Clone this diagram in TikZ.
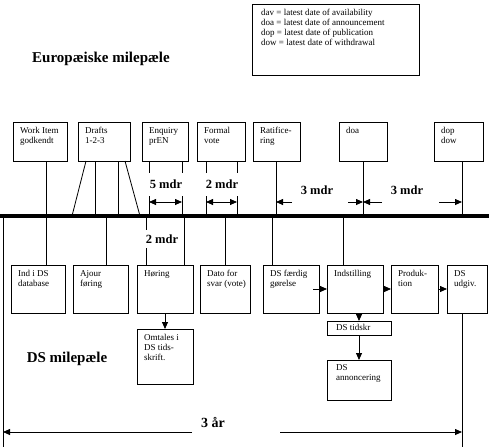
\documentclass[tikz,border=0pt]{standalone}
\usepackage{fontspec}
\setmainfont{Liberation Serif}
\usetikzlibrary{arrows.meta,calc}
\newcommand\boxfont{\fontsize{9}{10}\selectfont}
\newcommand\titlefont{\fontsize{15}{18}\selectfont\bfseries}
\newcommand\dimfont{\fontsize{12.5}{14}\selectfont\bfseries}
\begin{document}
\begin{tikzpicture}[x=1pt,y=-1pt,
  box/.style={draw,line width=0.8pt,inner sep=0pt,outer sep=0pt,anchor=north west},
  lbl/.style={anchor=north west,align=left,font=\boxfont,inner xsep=7pt,inner ysep=5pt},
  ln/.style={line width=0.8pt},
  arr/.style={line width=0.8pt,-{Triangle[length=7pt,width=6pt]}},
  darr/.style={line width=0.8pt,{Triangle[length=7pt,width=6pt]}-{Triangle[length=7pt,width=6pt]}},
  dim/.style={font=\dimfont,fill=white,inner sep=0pt},
  title/.style={font=\titlefont,inner sep=0pt}]
\useasboundingbox (0,0) rectangle (489,447);
% legend
\node[box,minimum width=167pt,minimum height=71pt,
  label={[lbl,inner xsep=9pt,inner ysep=5pt]north west:{dav = latest date of availability\\doa = latest date of announcement\\dop = latest date of publication\\dow = latest date of withdrawal}}] (leg) at (252,4) {};
% titles
\node[title] (eu) at (101,59) {Europæiske milepæle};
\node[title] (dsm) at (67,359) {DS milepæle};
% timeline
\coordinate (tlL) at (0,216);
\coordinate (tlR) at (489,216);
\draw[line width=4pt] (tlL) -- (tlR);
% top boxes
\node[box,minimum width=54pt,minimum height=39pt,label={[lbl]north west:{Work Item\\godkendt}}] (wi) at (13,122) {};
\node[box,minimum width=52pt,minimum height=39pt,label={[lbl]north west:{Drafts\\1-2-3}}] (dr) at (78,122) {};
\node[box,minimum width=46pt,minimum height=39pt,label={[lbl]north west:{Enquiry\\prEN}}] (enq) at (142,122) {};
\node[box,minimum width=48pt,minimum height=39pt,label={[lbl]north west:{Formal\\vote}}] (fv) at (197,122) {};
\node[box,minimum width=47pt,minimum height=39pt,label={[lbl]north west:{Ratifice-\\ring}}] (rat) at (253,122) {};
\node[box,minimum width=48pt,minimum height=39pt,label={[lbl]north west:{doa}}] (doa) at (339,122) {};
\node[box,minimum width=49pt,minimum height=39pt,label={[lbl]north west:{dop\\dow}}] (dop) at (434,122) {};
% bottom boxes
\node[box,minimum width=54pt,minimum height=48pt,label={[lbl]north west:{Ind i DS\\database}}] (ind) at (11,265) {};
\node[box,minimum width=55pt,minimum height=48pt,label={[lbl]north west:{Ajour\\føring}}] (aj) at (73,265) {};
\node[box,minimum width=56pt,minimum height=48pt,label={[lbl]north west:{Høring}}] (hor) at (137,265) {};
\node[box,minimum width=50pt,minimum height=48pt,label={[lbl]north west:{Dato for\\svar (vote)}}] (dato) at (200,265) {};
\node[box,minimum width=56pt,minimum height=48pt,label={[lbl]north west:{DS færdig\\gørelse}}] (dsf) at (263,265) {};
\node[box,minimum width=56pt,minimum height=48pt,label={[lbl]north west:{Indstilling}}] (inds) at (327,265) {};
\node[box,minimum width=47pt,minimum height=48pt,label={[lbl]north west:{Produk-\\tion}}] (prod) at (391,265) {};
\node[box,minimum width=40pt,minimum height=48pt,label={[lbl]north west:{DS\\udgiv.}}] (udg) at (447,265) {};
\node[box,minimum width=56pt,minimum height=55pt,label={[lbl]north west:{Omtales i\\DS tids-\\skrift.}}] (omt) at (137,329) {};
\node[box,minimum width=64pt,minimum height=14pt,label={[lbl,inner xsep=9pt,inner ysep=3pt]north west:{DS tidskr}}] (tid) at (327,321) {};
\node[box,minimum width=64pt,minimum height=40pt,label={[lbl,inner xsep=9pt,inner ysep=4pt]north west:{DS\\annoncering}}] (ann) at (327,360) {};
% coordinates on timeline
\coordinate (c46) at (46,216);
\coordinate (d1) at (72,216);
\coordinate (d2) at (95,216);
\coordinate (d3) at (118,216);
\coordinate (d4) at (140,216);
\coordinate (e1) at (149,216);
\coordinate (e2) at (182,216);
\coordinate (f1) at (206,216);
\coordinate (f2) at (237,216);
\coordinate (r1) at (276,216);
\coordinate (a1) at (363,216);
\coordinate (p1) at (462,216);
\coordinate (b1) at (106,216);
\coordinate (h1) at (146,216);
\coordinate (h2) at (184,216);
\coordinate (v1) at (225,216);
\coordinate (s1) at (272,216);
\coordinate (i1) at (343,216);
% top connectors
\draw[ln] (wi.south -| c46) -- (ind.north -| c46);
\draw[ln] ($(dr.south west)+(8,0)$) -- (d1);
\draw[ln] (dr.south -| d2) -- (d2);
\draw[ln] (dr.south -| d3) -- (d3);
\draw[ln] ($(dr.south east)+(-5,0)$) -- (d4);
\draw[ln] (enq.south -| e1) -- (e1);
\draw[ln] (enq.south -| e2) -- (e2);
\draw[ln] (fv.south -| f1) -- (f1);
\draw[ln] (fv.south -| f2) -- (f2);
\draw[ln] (rat.south -| r1) -- (r1);
\draw[ln] (doa.south -| a1) -- (a1);
\draw[ln] (dop.south -| p1) -- (p1);
% bottom connectors
\draw[ln] (b1) -- (aj.north -| b1);
\draw[ln] (h1) -- (hor.north -| h1);
\draw[ln] (h2) -- (hor.north -| h2);
\draw[ln] (v1) -- (dato.north -| v1);
\draw[ln] (s1) -- (dsf.north -| s1);
\draw[ln] (i1) -- (inds.north -| i1);
% dimension arrows top
\coordinate (e1a) at (149,202); \coordinate (e2a) at (182,202);
\coordinate (f1a) at (206,202); \coordinate (f2a) at (237,202);
\draw[darr] (e1a) -- (e2a);
\draw[darr] (f1a) -- (f2a);
\node[dim,minimum width=40pt,minimum height=23pt] (m5) at (166,184) {5 mdr};
\node[dim,minimum width=40pt,minimum height=23pt] (m2a) at (222,184) {2 mdr};
\node[dim,minimum width=44pt,minimum height=18pt] (m2b) at (162,239) {2 mdr};
\node[dim] (m3a) at (317,190) {3 mdr};
\node[dim] (m3b) at (407,190) {3 mdr};
\coordinate (g1) at (292,202); \coordinate (g1e) at (276,202);
\coordinate (g2) at (348,202); \coordinate (g2e) at (363,202);
\coordinate (g3) at (382,202); \coordinate (g3e) at (363,202);
\coordinate (g4) at (439,202); \coordinate (g4e) at (462,202);
\draw[arr] (g1) -- (g1e);
\draw[arr] (g2) -- (g2e);
\draw[arr] (g3) -- (g3e);
\draw[arr] (g4) -- (g4e);
% flow arrows
\draw[arr] (hor.south) -- (omt.north);
\draw[arr] (inds.south -| tid.north) -- (tid.north);
\draw[arr] (tid.south) -- (ann.north);
\draw[arr] ($(dsf.east)+(-6,0)$) -- (inds.west);
\draw[arr] (inds.east) -- (prod.west);
\draw[arr] (prod.east) -- (udg.west);
% 3 aar
\coordinate (yL) at (3,216);
\coordinate (yLb) at (3,447);
\coordinate (yRb) at (462,447);
\draw[ln] (yL) -- (yLb);
\draw[ln] (udg.south -| yRb) -- (yRb);
\node[title,font=\fontsize{14}{16}\selectfont\bfseries] (aar) at (213,422) {3 år};
\coordinate (q1) at (192,432); \coordinate (q1e) at (3,432);
\coordinate (q2) at (280,432); \coordinate (q2e) at (462,432);
\draw[arr] (q1) -- (q1e);
\draw[arr] (q2) -- (q2e);
\end{tikzpicture}
\end{document}
